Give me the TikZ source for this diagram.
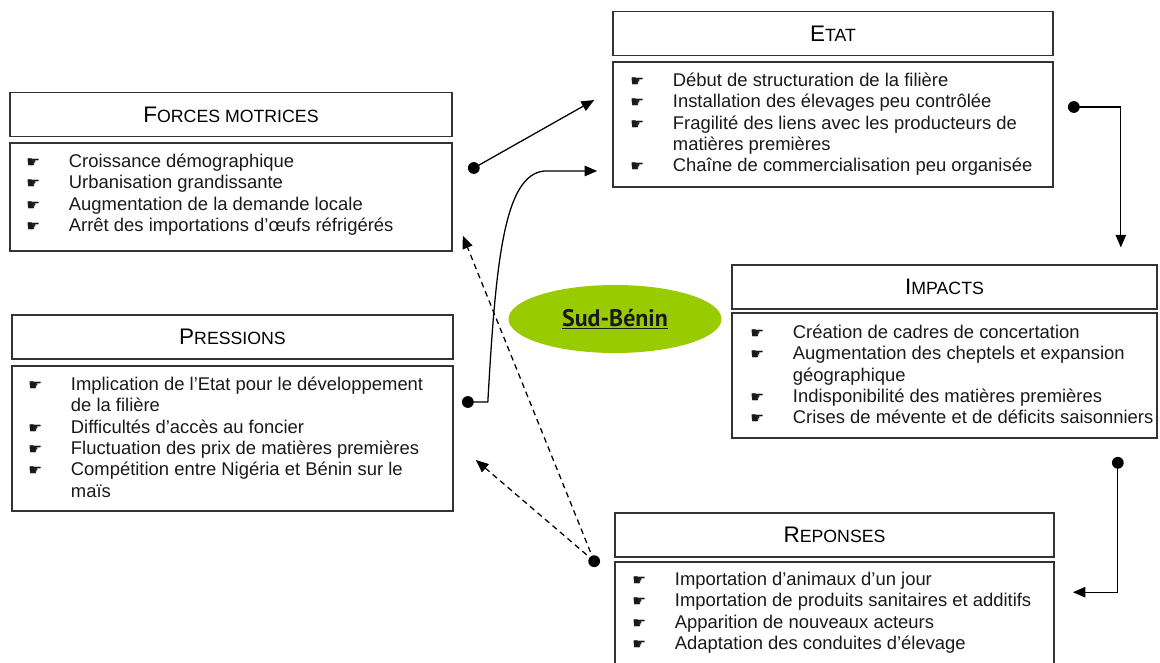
\documentclass[tikz,border=0pt]{standalone}
\usepackage{fontspec}
\setmainfont{Liberation Sans}
\newfontfamily\handfont{DejaVu Sans}
\newfontfamily\ovalfont{PT Sans}
\usepackage{tikz}
\usetikzlibrary{arrows.meta}
\usetikzlibrary{shapes.geometric}

\definecolor{ovalgreen}{HTML}{99CC00}
\newcommand{\hand}{{\handfont\fontsize{11}{11}\selectfont\raisebox{0pt}{☛}}}
\newcommand{\boxtitle}[2]{{\fontsize{16}{16}\selectfont #1}{\fontsize{12.6}{12.6}\selectfont #2}}

\begin{document}
\begin{tikzpicture}[x=0.025cm,y=-0.025cm,
    titlebox/.style={draw=black!80,line width=1.1pt,minimum height=1.09cm,inner sep=0pt,text=black},
    bodybox/.style={draw=black!80,line width=1.1pt,inner sep=0pt},
    itemtext/.style={anchor=north west,inner sep=0pt,align=left,text=black!90,font=\fontsize{13.1}{15.2}\selectfont},
    link/.style={line width=0.9pt,-{Triangle[length=9pt,width=7.5pt]}},
    feedback/.style={link,dash pattern=on 4pt off 3pt}]
  \useasboundingbox (0,0) rectangle (1160,663);

  % forces motrices
  \node[titlebox,minimum width=11.05cm] (fmtitle) at (231,114.5) {\boxtitle{F}{ORCES MOTRICES}};
  \node[bodybox,minimum width=11.05cm,minimum height=2.7cm] (fmbody) at (231,197) {};
  \node[itemtext] (fmtext) at ([shift={(17,10)}]fmbody.north west) {%
    \begin{tabular}{@{}p{30.2pt}@{}l@{}}
      \hand & Croissance démographique\\
      \hand & Urbanisation grandissante\\
      \hand & Augmentation de la demande locale\\
      \hand & Arrêt des importations d’œufs réfrigérés
    \end{tabular}};

  % pressions
  \node[titlebox,minimum width=11.025cm] (prtitle) at (232.5,337) {\boxtitle{P}{RESSIONS}};
  \node[bodybox,minimum width=11.025cm,minimum height=3.625cm] (prbody) at (232.5,438.5) {};
  \node[itemtext] (prtext) at ([shift={(17,10)}]prbody.north west) {%
    \begin{tabular}{@{}p{30.2pt}@{}l@{}}
      \hand & Implication de l’Etat pour le développement\\
            & de la filière\\
      \hand & Difficultés d’accès au foncier\\
      \hand & Fluctuation des prix de matières premières\\
      \hand & Compétition entre Nigéria et Bénin sur le\\
            & maïs
    \end{tabular}};

  % etat
  \node[titlebox,minimum width=11cm] (etattitle) at (833,33.5) {\boxtitle{E}{TAT}};
  \node[bodybox,minimum width=11cm,minimum height=3.125cm] (etatbody) at (833,124.5) {};
  \node[itemtext] (etattext) at ([shift={(18,10)}]etatbody.north west) {%
    \begin{tabular}{@{}p{30.2pt}@{}l@{}}
      \hand & Début de structuration de la filière\\
      \hand & Installation des élevages peu contrôlée\\
      \hand & Fragilité des liens avec les producteurs de\\
            & matières premières\\
      \hand & Chaîne de commercialisation peu organisée
    \end{tabular}};

  % impacts
  \node[titlebox,minimum width=10.625cm] (imptitle) at (944.5,287) {\boxtitle{I}{MPACTS}};
  \node[bodybox,minimum width=10.625cm,minimum height=3.125cm] (impbody) at (944.5,375.5) {};
  \node[itemtext] (imptext) at ([shift={(19,11)}]impbody.north west) {%
    \begin{tabular}{@{}p{30.2pt}@{}l@{}}
      \hand & Création de cadres de concertation\\
      \hand & Augmentation des cheptels et expansion\\
            & géographique\\
      \hand & Indisponibilité des matières premières\\
      \hand & Crises de mévente et de déficits saisonniers
    \end{tabular}};

  % reponses
  \node[titlebox,minimum width=10.975cm] (reptitle) at (834.5,535) {\boxtitle{R}{EPONSES}};
  \node[bodybox,minimum width=10.975cm,minimum height=3cm] (repbody) at (834.5,622) {};
  \node[itemtext] (reptext) at ([shift={(18,9)}]repbody.north west) {%
    \begin{tabular}{@{}p{30.2pt}@{}l@{}}
      \hand & Importation d’animaux d’un jour\\
      \hand & Importation de produits sanitaires et additifs\\
      \hand & Apparition de nouveaux acteurs\\
      \hand & Adaptation des conduites d’élevage
    \end{tabular}};

  % zone
  \node[ellipse,fill=ovalgreen,minimum width=5.325cm,minimum height=1.7cm,inner sep=0pt,
        font=\ovalfont\bfseries\fontsize{17}{17}\selectfont,text=black!90] (zone) at (615,319) {\underline{Sud-Bénin}};

  % connector ends
  \coordinate (fmout) at ([shift={(21,-29)}]fmbody.east);
  \coordinate (etatin1) at ([shift={(-18,-24.5)}]etatbody.west);
  \coordinate (prout) at ([shift={(14,-36.5)}]prbody.east);
  \coordinate (etatin2) at ([shift={(-15,46.5)}]etatbody.west);
  \coordinate (prtop) at ([shift={(-53,0)}]etatin2);
  \coordinate (etatout) at ([shift={(20,-17.5)}]etatbody.east);
  \coordinate (impin) at ([shift={(-37,-17)}]imptitle.north east);
  \coordinate (impout) at ([shift={(-40,24)}]impbody.south east);
  \coordinate (repin) at ([shift={(18,31)}]repbody.north east);
  \coordinate (repout) at ([shift={(-20,0)}]repbody.north west);
  \coordinate (fmin) at ([shift={(10,-16)}]fmbody.south east);
  \coordinate (prin) at ([shift={(22,21.5)}]prbody.east);

  \draw[link] (fmout) -- (etatin1);
  \draw[link] (prout) -- ++(20,0) coordinate (prup)
    .. controls ([shift={(8,-142)}]prup) and ([shift={(-40,4)}]prtop) .. (prtop) -- (etatin2);
  \draw[link] (etatout) -| (impin);
  \draw[link] (impout) |- (repin);
  \draw[feedback] (repout) -- (fmin);
  \draw[feedback] (repout) -- (prin);
  \foreach \d in {fmout,prout,etatout,impout,repout}
    \fill (\d) circle (4.2pt);
\end{tikzpicture}
\end{document}
